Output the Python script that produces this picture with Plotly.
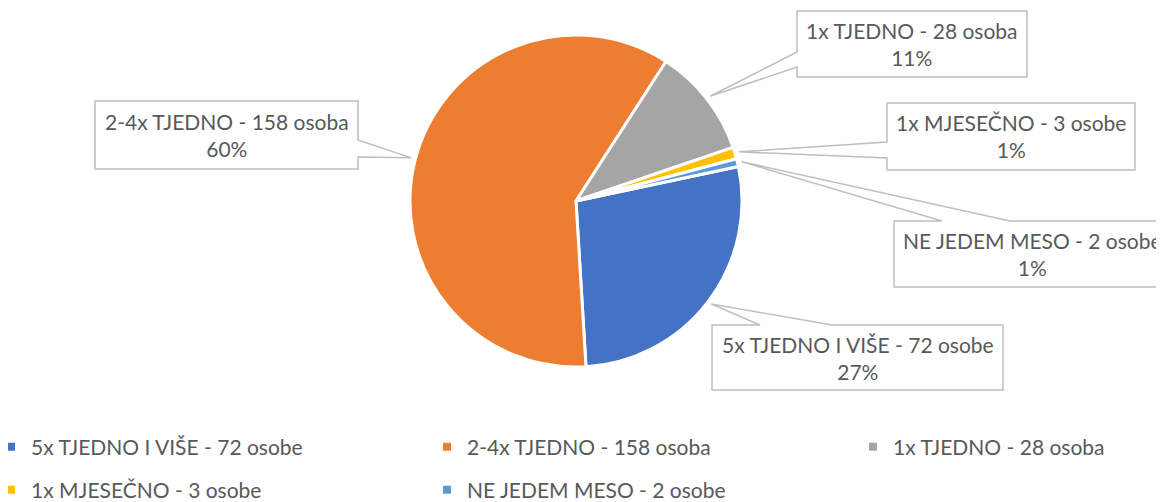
import math
import plotly.graph_objects as go

# browser window is 1164x502; the page body keeps an 8px margin,
# so the figure is sized to fill the rest of the window exactly.
WIN_W, WIN_H = 1164, 502
OFF = 8
W, H = WIN_W - OFF, WIN_H - OFF

categories = [
    "5x TJEDNO I VIŠE - 72 osobe",
    "2-4x TJEDNO - 158 osoba",
    "1x TJEDNO - 28 osoba",
    "1x MJESEČNO - 3 osobe",
    "NE JEDEM MESO - 2 osobe",
]
values = [72, 158, 28, 3, 2]
colors = ["#4472C4", "#ED7D31", "#A5A5A5", "#FFC000", "#5B9BD5"]

TEXT_COLOR = "#595959"
BORDER_COLOR = "#BFBFBF"
FONT = "Lato"
FS = 21

# pie geometry (window pixels)
CX, CY, R = 576, 201, 166
ROTATION = 78

# callout boxes (window pixels): left, top, right, bottom, side, attach a, attach b
boxes = [
    (712, 325, 1003, 390, "top", 760, 832),
    (95, 101, 358, 169, "right", 140, 157),
    (797, 11, 1027, 77, "left", 52, 67),
    (887, 103, 1135, 170, "left", 142, 158),
    (894, 221, 1180, 287, "top", 942, 1010),
]
# legend entry text positions (window pixels): text-left x, row centre y
legend_pos = [(32, 447), (468, 447), (894, 447), (32, 490), (468, 490)]


def px(x):
    return (x - OFF) / W


def py(y):
    return 1 - (y - OFF) / H


total = sum(values)
fig = go.Figure()
fig.add_trace(go.Pie(
    labels=categories,
    values=values,
    sort=False,
    direction="clockwise",
    rotation=ROTATION,
    marker=dict(colors=colors, line=dict(color="white", width=3)),
    textinfo="none",
    hoverinfo="label+percent",
    showlegend=False,
    domain=dict(x=[px(CX - R), px(CX + R)], y=[py(CY + R), py(CY - R)]),
))

legends = {}
for i, (cat, col, (lx, ly)) in enumerate(zip(categories, colors, legend_pos)):
    key = "legend" if i == 0 else f"legend{i + 1}"
    fig.add_trace(go.Scatter(
        x=[None], y=[None], mode="markers", name=cat,
        marker=dict(symbol="square", size=8, color=col),
        legend=key, showlegend=True, hoverinfo="skip",
    ))
    legends[key] = dict(
        x=(lx - OFF - 41) / W, y=py(ly), xanchor="left", yanchor="middle",
        orientation="h", bgcolor="rgba(0,0,0,0)",
        font=dict(family=FONT, size=FS, color=TEXT_COLOR),
    )

shapes = []
annotations = []
cum = 0.0
for cat, v, box in zip(categories, values, boxes):
    mid = ROTATION + (cum + v / 2) / total * 360
    cum += v
    a = math.radians(mid)
    tx = CX + 1.025 * R * math.sin(a)
    ty = CY - 1.025 * R * math.cos(a)
    l, t, r, b, side, p1, p2 = box
    if side == "top":
        pts = [(l, t), (p1, t), (tx, ty), (p2, t), (r, t), (r, b), (l, b)]
    elif side == "right":
        pts = [(l, t), (r, t), (r, p1), (tx, ty), (r, p2), (r, b), (l, b)]
    else:  # left
        pts = [(l, t), (r, t), (r, b), (l, b), (l, p2), (tx, ty), (l, p1)]
    path = "M " + " L ".join(f"{px(x):.5f},{py(y):.5f}" for x, y in pts) + " Z"
    shapes.append(dict(type="path", xref="paper", yref="paper", path=path,
                       fillcolor="white", line=dict(color=BORDER_COLOR, width=1.5),
                       layer="above"))
    pct = round(v / total * 100)
    cx_text = (l + r) / 2 if r <= WIN_W else 1032
    annotations.append(dict(
        xref="paper", yref="paper",
        x=px(cx_text), y=py((t + b) / 2),
        text=f"{cat}<br>{pct}%",
        showarrow=False, xanchor="center", yanchor="middle",
        font=dict(family=FONT, size=FS, color=TEXT_COLOR),
    ))

fig.update_layout(
    width=W, height=H,
    margin=dict(l=0, r=0, t=0, b=0, autoexpand=False),
    paper_bgcolor="white", plot_bgcolor="white",
    xaxis=dict(visible=False), yaxis=dict(visible=False),
    shapes=shapes, annotations=annotations,
    **legends,
)

fig.write_html("out.html")
